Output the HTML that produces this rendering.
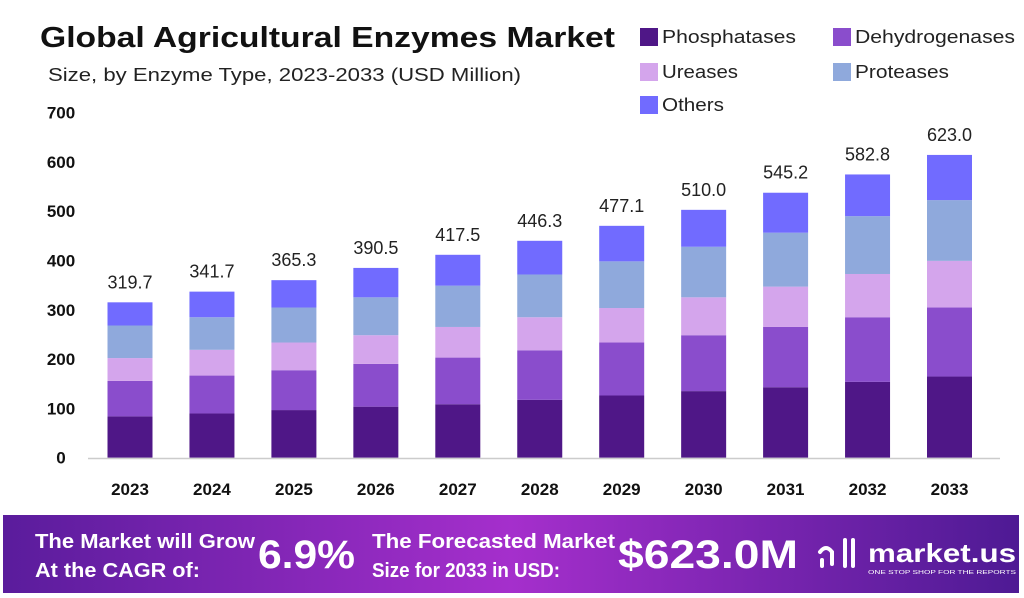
<!DOCTYPE html>
<html><head><meta charset="utf-8"><style>
body{margin:0;width:1024px;height:598px;background:#fff;overflow:hidden;font-family:"Liberation Sans",sans-serif}
svg{display:block}
</style></head><body>
<svg id="c" width="1024" height="598">
<defs><linearGradient id="bg" x1="0" x2="1" y1="0" y2="0">
<stop offset="0" stop-color="#5a1c9c"/><stop offset="0.5" stop-color="#a52fcc"/><stop offset="1" stop-color="#4e1a94"/></linearGradient></defs>
<text x="40" y="47" font-size="29" font-weight="bold" fill="#111" textLength="575" lengthAdjust="spacingAndGlyphs">Global Agricultural Enzymes Market</text>
<text x="48" y="81" font-size="18" fill="#222" textLength="473" lengthAdjust="spacingAndGlyphs">Size, by Enzyme Type, 2023-2033 (USD Million)</text>
<g id="legend"></g>
<g id="yaxis"></g>
<g id="bars"></g>
<line x1="88" x2="1000" y1="458.5" y2="458.5" stroke="#ccc" stroke-width="1.5"/>
<g id="xaxis"></g>
<g>
<rect x="3" y="515" width="1016" height="78" fill="url(#bg)"/>
<text x="35" y="548" font-size="20" font-weight="bold" fill="#fff" textLength="220" lengthAdjust="spacingAndGlyphs">The Market will Grow</text>
<text x="35" y="577" font-size="20" font-weight="bold" fill="#fff" textLength="165" lengthAdjust="spacingAndGlyphs">At the CAGR of:</text>
<text x="258" y="568" font-size="40" font-weight="bold" fill="#fff" textLength="97" lengthAdjust="spacingAndGlyphs">6.9%</text>
<text x="372" y="548" font-size="20" font-weight="bold" fill="#fff" textLength="243" lengthAdjust="spacingAndGlyphs">The Forecasted Market</text>
<text x="372" y="577" font-size="20" font-weight="bold" fill="#fff" textLength="188" lengthAdjust="spacingAndGlyphs">Size for 2033 in USD:</text>
<text x="618" y="568" font-size="40" font-weight="bold" fill="#fff" textLength="180" lengthAdjust="spacingAndGlyphs">$623.0M</text>
<text x="868" y="562" font-size="26" font-weight="bold" fill="#fff" textLength="148" lengthAdjust="spacingAndGlyphs">market.us</text>
<text x="868" y="574" font-size="5" fill="#fff" textLength="148" lengthAdjust="spacingAndGlyphs">ONE STOP SHOP FOR THE REPORTS</text>
<path d="M820 552 q6 -8 12 0 v12 M845 540 v26 M853 540 v26 M822 560 v6" stroke="#fff" stroke-width="4" fill="none" stroke-linecap="round"/>
</g>
</svg>
<script>
const years=["2023","2024","2025","2026","2027","2028","2029","2030","2031","2032","2033"];
const phosphatases=[85,91,98,105,110,119,128,137,145,156,167];
const dehydrogenases=[73,78,82,88,96,102,109,115,124,133,142];
const ureases=[47,53,57,59,63,68,71,78,83,89,96];
const proteases=[67,67,72,78,85,88,96,104,111,119,125];
const others=[47.7,52.7,56.3,60.5,63.5,69.3,73.1,76,82.2,85.8,93];
const totals=["319.7","341.7","365.3","390.5","417.5","446.3","477.1","510.0","545.2","582.8","623.0"];
const yTicks=[0,100,200,300,400,500,600,700];
const seriesNames=["Phosphatases","Dehydrogenases","Ureases","Proteases","Others"];
const colors=["#4f1787","#8a4dcc","#d4a5ec","#8fa9dc","#716bff"];
const series=[phosphatases,dehydrogenases,ureases,proteases,others];
const NS="http://www.w3.org/2000/svg";
function y(v){return 457.7-v*0.486;}
function yt(v){return 457.7-v*0.493;}
function x(i){return 130+i*81.95;}
function mk(tag,attrs,parent){const e=document.createElementNS(NS,tag);for(const k in attrs)e.setAttribute(k,attrs[k]);parent.appendChild(e);return e;}
const yg=document.getElementById('yaxis');
yTicks.forEach(t=>{const e=mk('text',{x:61,y:yt(t)+6,'font-size':17,'font-weight':'bold','text-anchor':'middle',fill:'#111'},yg);e.textContent=t;

});
const bg=document.getElementById('bars'),xg=document.getElementById('xaxis');
years.forEach((yr,i)=>{let acc=0;
series.forEach((s,k)=>{const r=mk('rect',{x:x(i)-22.5,y:y(acc+s[i]),width:45,height:s[i]*0.486,fill:colors[k]},bg);acc+=s[i];

});
const tl=mk('text',{x:x(i),y:y(acc)-14,'font-size':18,'text-anchor':'middle',fill:'#222'},bg);tl.textContent=totals[i];


const xl=mk('text',{x:x(i),y:495,'font-size':17,'font-weight':'bold','text-anchor':'middle',fill:'#111'},xg);xl.textContent=yr;

});
const lg=document.getElementById('legend');
const lp=[[640,37],[833,37],[640,72],[833,72],[640,105]];
const lw=[134,160,76,94,62];
seriesNames.forEach((n,k)=>{const g=mk('g',{},lg);


mk('rect',{x:lp[k][0],y:lp[k][1]-9,width:18,height:18,fill:colors[k]},g);
const t=mk('text',{x:lp[k][0]+22,y:lp[k][1]+6,'font-size':18,fill:'#222',textLength:lw[k],lengthAdjust:'spacingAndGlyphs'},g);t.textContent=n;});
</script>
</body></html>
